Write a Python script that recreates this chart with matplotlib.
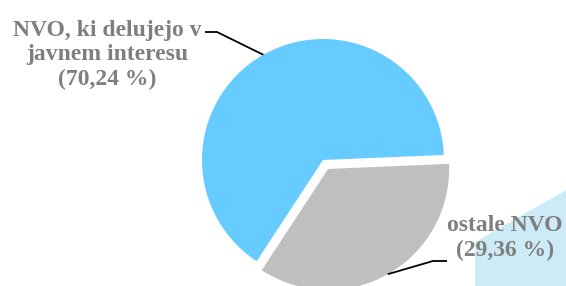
import numpy as np
import matplotlib
matplotlib.use("Agg")
import matplotlib.pyplot as plt
from matplotlib.patches import Polygon

# ---- data ----
categories = ["NVO, ki delujejo v\njavnem interesu", "ostale NVO"]
label_pcts = ["70,24 %", "29,36 %"]
shares = [65.1, 34.9]          # wedge sizes as drawn in the picture
colors = ["#66CCFF", "#BFBFBF"]
explode = [0.0, 0.085]

W, H = 566, 286
CX, CY, R = 323, 160, 121      # pie centre / radius in pixels (from top)

def P(px, py):
    return ((px - CX) / R, (CY - py) / R)

fig = plt.figure(figsize=(W / 100, H / 100), dpi=100)
ax = fig.add_axes([0, 0, 1, 1])

# light blue decoration bottom-right
deco = Polygon([P(475, 286), P(475, 242), P(566, 190), P(566, 286)],
               closed=True, facecolor="#CDEBF6", edgecolor="none", zorder=0)
ax.add_patch(deco)

wedges, _ = ax.pie(shares, colors=colors, explode=explode, startangle=2.4,
                   counterclock=True, wedgeprops=dict(linewidth=0))
for w in wedges:
    w.set_zorder(2)

x0, y0 = P(0, 286)
x1, y1 = P(566, 0)
ax.set_xlim(x0, x1)
ax.set_ylim(y0, y1)
ax.set_aspect("auto")
ax.axis("off")

font = dict(family=["Liberation Serif", "DejaVu Serif"], weight="bold",
            color="#7F7F7F", fontsize=17)

texts = [f"{c}\n({p})" for c, p in zip(categories, label_pcts)]
ax.text(*P(107, 55), texts[0], ha="center", va="center",
        multialignment="center", linespacing=1.2, zorder=3, **font)
ax.text(*P(505, 238), texts[1], ha="center", va="center",
        multialignment="center", linespacing=1.2, zorder=3, **font)

# leader lines, attached at the wedge bisectors
def arc_point(w):
    th = np.deg2rad((w.theta1 + w.theta2) / 2)
    cx, cy = w.center
    return cx + w.r * np.cos(th), cy + w.r * np.sin(th)

p0 = arc_point(wedges[0])
xs = [P(205, 32)[0], P(217, 32)[0], p0[0]]
ys = [P(205, 32)[1], P(217, 32)[1], p0[1]]
ax.plot(xs, ys, color="black", lw=1.3, zorder=3, solid_capstyle="butt")

p1 = arc_point(wedges[1])
xs = [p1[0], P(433, 261)[0], P(447, 261)[0]]
ys = [p1[1], P(433, 261)[1], P(447, 261)[1]]
ax.plot(xs, ys, color="black", lw=1.3, zorder=3, solid_capstyle="butt")

fig.savefig("out.png", dpi=100)
